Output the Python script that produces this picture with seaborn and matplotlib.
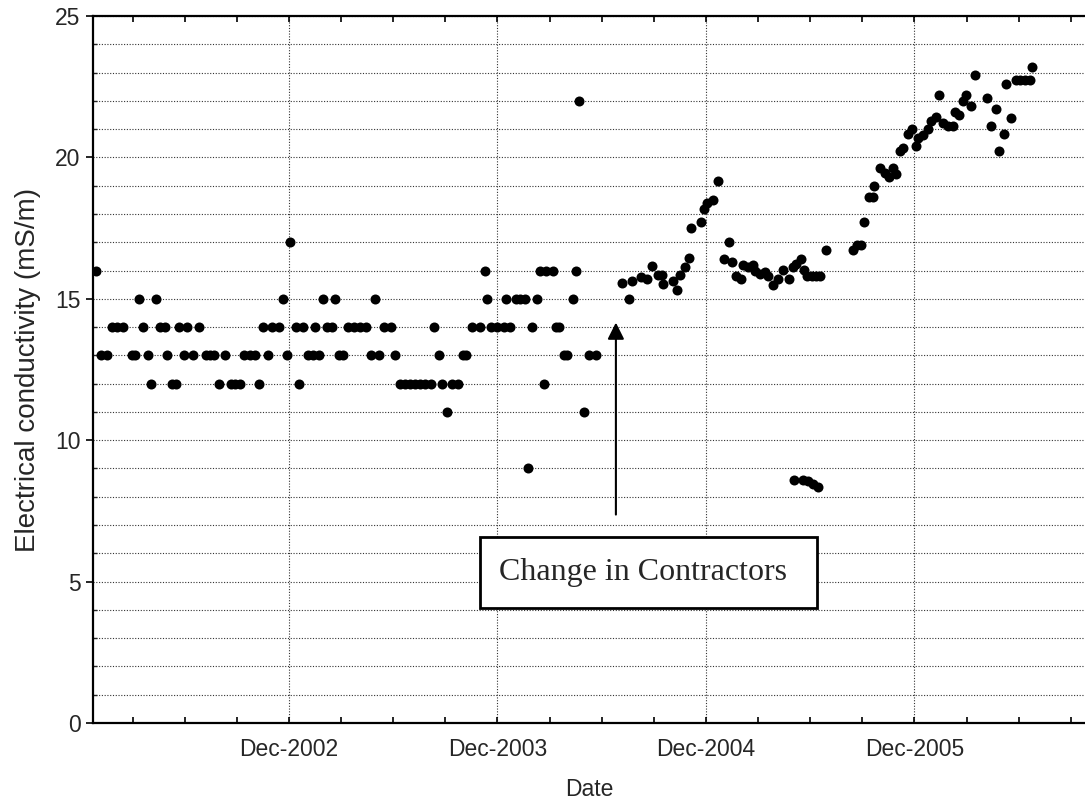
import numpy as np
import pandas as pd
import matplotlib
matplotlib.use("Agg")
import matplotlib.pyplot as plt
from matplotlib.ticker import FixedLocator, MultipleLocator
from matplotlib.patches import Rectangle
import seaborn as sns

# ---- data (sampling date as decimal year, conductivity mS/m) ----
year = [
    2001.988, 2002.011, 2002.040, 2002.068, 2002.092, 2002.117, 2002.160, 2002.176, 2002.197, 2002.216,
    2002.240, 2002.253, 2002.276, 2002.296, 2002.320, 2002.331, 2002.354, 2002.371, 2002.387, 2002.411,
    2002.427, 2002.456, 2002.483, 2002.517, 2002.536, 2002.555, 2002.581, 2002.608, 2002.637, 2002.656,
    2002.678, 2002.699, 2002.728, 2002.754, 2002.773, 2002.789, 2002.813, 2002.832, 2002.869, 2002.886,
    2002.905, 2002.920, 2002.947, 2002.963, 2002.984, 2003.006, 2003.030, 2003.040, 2003.057, 2003.077,
    2003.096, 2003.120, 2003.136, 2003.157, 2003.174, 2003.198, 2003.227, 2003.256, 2003.284, 2003.307,
    2003.328, 2003.347, 2003.371, 2003.404, 2003.423, 2003.447, 2003.471, 2003.495, 2003.519, 2003.543,
    2003.567, 2003.596, 2003.612, 2003.636, 2003.650, 2003.674, 2003.697, 2003.728, 2003.752, 2003.766,
    2003.793, 2003.831, 2003.855, 2003.866, 2003.884, 2003.915, 2003.946, 2003.954, 2003.977, 2004.004,
    2004.025, 2004.047, 2004.061, 2004.082, 2004.103, 2004.121, 2004.139, 2004.150, 2004.180, 2004.198,
    2004.212, 2004.236, 2004.248, 2004.279, 2004.293, 2004.307, 2004.331, 2004.356, 2004.387,
    2004.511, 2004.544, 2004.562, 2004.602, 2004.631, 2004.656, 2004.686, 2004.705, 2004.710, 2004.755,
    2004.775, 2004.790, 2004.814, 2004.832, 2004.843, 2004.889, 2004.905, 2004.918, 2004.950, 2004.974,
    2005.001, 2005.025, 2005.038, 2005.057, 2005.083, 2005.094, 2005.115, 2005.139, 2005.150, 2005.174,
    2005.198, 2005.214, 2005.235, 2005.262, 2005.286, 2005.315, 2005.334, 2005.347, 2005.369, 2005.385,
    2005.398, 2005.422, 2005.443, 2005.462, 2005.489,
    2005.337, 2005.380, 2005.404, 2005.428, 2005.452,
    2005.620, 2005.639, 2005.661, 2005.673, 2005.697, 2005.717, 2005.722, 2005.750, 2005.774, 2005.794,
    2005.810, 2005.826, 2005.846, 2005.861, 2005.885, 2005.904, 2005.921, 2005.933, 2005.957, 2005.978,
    2005.993, 2006.018, 2006.033, 2006.053, 2006.077, 2006.098, 2006.109, 2006.130, 2006.149, 2006.162,
    2006.186, 2006.205, 2006.261, 2006.283, 2006.304, 2006.322, 2006.343, 2006.354, 2006.378, 2006.402,
    2006.423, 2006.445, 2006.467, 2006.477,
]
conductivity = [
    16, 13, 13, 14, 14, 14, 13, 13, 15, 14,
    13, 12, 15, 14, 14, 13, 12, 12, 14, 13,
    14, 13, 14, 13, 13, 13, 12, 13, 12, 12,
    12, 13, 13, 13, 12, 14, 13, 14, 14, 15,
    13, 17, 14, 12, 14, 13, 13, 14, 13, 15,
    14, 14, 15, 13, 13, 14, 14, 14, 14, 13,
    15, 13, 14, 14, 13, 12, 12, 12, 12, 12,
    12, 12, 14, 13, 12, 11, 12, 12, 13, 13,
    14, 14, 16, 15, 14, 14, 14, 15, 14, 15,
    15, 15, 9, 14, 15, 16, 12, 16, 16, 14,
    14, 13, 13, 15, 16, 22, 11, 13, 13,
    15.55, 15.0, 15.63, 15.78, 15.71, 16.16, 15.83, 15.83, 15.53, 15.63,
    15.31, 15.83, 16.14, 16.43, 17.52, 17.72, 18.19, 18.4, 18.49, 19.18,
    16.41, 17.0, 16.29, 15.81, 15.69, 16.2, 16.12, 16.2, 16.0, 15.88,
    15.93, 15.79, 15.49, 15.69, 16.02, 15.69, 16.12, 16.24, 16.4, 16.02,
    15.81, 15.81, 15.81, 15.81, 16.71,
    8.6, 8.6, 8.55, 8.45, 8.35,
    16.71, 16.91, 16.91, 17.71, 18.59, 18.59, 19.0, 19.62, 19.44, 19.3,
    19.62, 19.41, 20.23, 20.33, 20.82, 21.0, 20.41, 20.7, 20.8, 21.0,
    21.3, 21.42, 22.21, 21.2, 21.11, 21.11, 21.62, 21.5, 22.01, 22.21,
    21.8, 22.9, 22.09, 21.11, 21.7, 20.21, 20.81, 22.6, 21.41, 22.72,
    22.72, 22.72, 22.72, 23.21,
]
tick_labels = ["Dec-2002", "Dec-2003", "Dec-2004", "Dec-2005"]
tick_years = [2002.915, 2003.915, 2004.915, 2005.915]
annotation_text = "Change in Contractors"

df = pd.DataFrame({"Date": year, "EC": conductivity})

sns.set_style("white")
plt.rcParams["font.family"] = ["Liberation Sans", "DejaVu Sans"]

fig = plt.figure(figsize=(10.85, 8.05), dpi=100)
ax = fig.add_axes([93 / 1085, 1 - 723 / 805, (1085 - 93) / 1085, (723 - 16) / 805])

sns.scatterplot(data=df, x="Date", y="EC", ax=ax, color="black", s=52,
                linewidth=0, zorder=3, legend=False)

ax.set_xlim(2001.975, 2006.733)
ax.set_ylim(0, 25)

ax.xaxis.set_major_locator(FixedLocator(tick_years))
ax.set_xticklabels(tick_labels)
quarters = [tick_years[0] + 0.25 * k for k in range(-4, 16)]
ax.xaxis.set_minor_locator(FixedLocator(quarters))
ax.yaxis.set_major_locator(MultipleLocator(5))
ax.yaxis.set_minor_locator(MultipleLocator(1))

ax.grid(which="both", axis="y", linestyle=(0, (1, 1.5)), color="#333333", linewidth=0.8)
ax.grid(which="major", axis="x", linestyle=(0, (1, 1.5)), color="#333333", linewidth=0.8)
ax.set_axisbelow(True)

for side in ["left", "bottom", "top"]:
    ax.spines[side].set_visible(True)
    ax.spines[side].set_color("black")
    ax.spines[side].set_linewidth(1.6)
ax.spines["right"].set_visible(False)

ax.tick_params(axis="x", which="both", direction="in", top=True, bottom=True,
               length=4, width=1.2, color="black", labelsize=16.5, pad=11)
ax.tick_params(axis="y", which="major", direction="out", left=True, length=5,
               width=1.2, color="black", labelsize=16.5, pad=4)
ax.tick_params(axis="y", which="minor", direction="in", left=True, length=3, width=1.0)

ax.set_xlabel("Date", fontsize=16.5, labelpad=12)
ax.set_ylabel("Electrical conductivity (mS/m)", fontsize=20, labelpad=10)

# annotation arrow and box
arrow_x = 2004.483
ax.annotate("", xy=(arrow_x, 14.16), xytext=(arrow_x, 7.37),
            arrowprops=dict(arrowstyle="-|>", color="black", lw=1.5,
                            mutation_scale=25, shrinkA=0, shrinkB=0), zorder=4)
ax.add_patch(Rectangle((2003.831, 4.07), 2005.447 - 2003.831, 6.59 - 4.07,
                       facecolor="white", edgecolor="black", linewidth=2, zorder=4))
ax.text(2004.615, 5.33, annotation_text, ha="center", va="center",
        fontsize=23, family=["Liberation Serif", "DejaVu Serif"], zorder=5)

fig.savefig("out.png", dpi=100)
